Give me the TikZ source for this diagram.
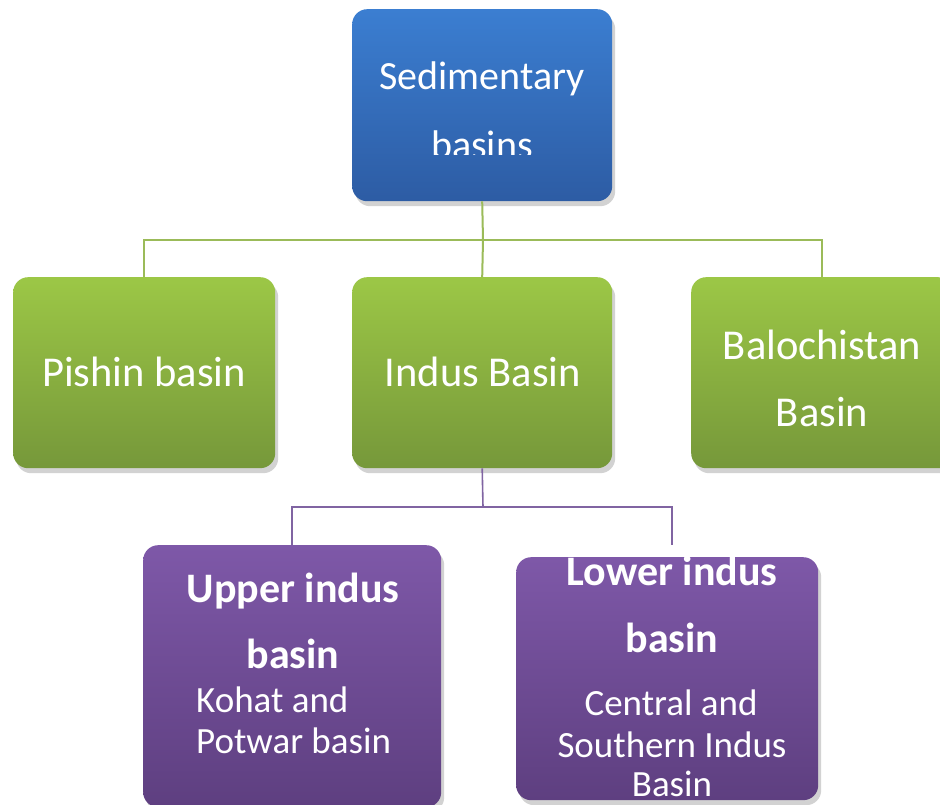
\documentclass[tikz,border=0pt]{standalone}
\usepackage{fontspec}
\setmainfont{Carlito}
\usetikzlibrary{shadows}
\definecolor{blueT}{HTML}{3B7ED1}
\definecolor{blueB}{HTML}{2D5CA4}
\definecolor{greenT}{HTML}{9CC746}
\definecolor{greenB}{HTML}{76983A}
\definecolor{purpT}{HTML}{7E58A8}
\definecolor{purpB}{HTML}{5E3F80}
\definecolor{gline}{HTML}{9BBB59}
\definecolor{pline}{HTML}{8064A2}
\tikzset{
  box/.style={rounded corners=15pt, inner sep=0pt, draw=none, anchor=north west,
    drop shadow={opacity=0.35, shadow xshift=3pt, shadow yshift=-5pt}},
  bluebox/.style={box, top color=blueT, bottom color=blueB},
  greenbox/.style={box, top color=greenT, bottom color=greenB},
  purpbox/.style={box, top color=purpT, bottom color=purpB},
  glink/.style={draw=gline, line width=2pt},
  plink/.style={draw=pline, line width=1.6pt},
  toptxt/.style={text=white, anchor=base, inner sep=0pt, font=\fontsize{40}{48}\selectfont},
  bigtxt/.style={text=white, anchor=base, inner sep=0pt, font=\fontsize{42.5}{50}\selectfont},
  boldtxt/.style={text=white, anchor=base, inner sep=0pt, font=\fontsize{42}{50}\selectfont\bfseries},
  smalltxt/.style={text=white, anchor=base, inner sep=0pt, font=\fontsize{37}{44}\selectfont}
}
\begin{document}
\begin{tikzpicture}[x=1pt,y=-1pt]
\useasboundingbox (0,0) rectangle (940,805);
\clip (0,0) rectangle (940,805);
\fill[white] (0,0) rectangle (940,805);

% boxes
\node[bluebox, minimum width=260pt, minimum height=192pt] (top) at (352,9) {};
\node[greenbox, minimum width=262pt, minimum height=191pt] (pishin) at (13,277) {};
\node[greenbox, minimum width=260pt, minimum height=191pt] (indus) at (352,277) {};
\node[greenbox, minimum width=262pt, minimum height=191pt] (baloch) at (691,277) {};
\node[purpbox, minimum width=298pt, minimum height=262pt] (upper) at (143,545) {};
\node[purpbox, minimum width=302pt, minimum height=243pt] (lower) at (516,557) {};

% connectors
\coordinate (gbus) at (483,240);
\coordinate (pbus) at (483,507);
\coordinate (lowtop) at (672,545);
\draw[glink] (top.south) -- (gbus);
\draw[glink] (pishin.north) |- (gbus) -| (baloch.north);
\draw[glink] (gbus) -- (indus.north);
\draw[plink] (indus.south) -- (pbus);
\draw[plink] (upper.north) |- (pbus) -| (lowtop);

% texts
\node[toptxt] (sed1) at (482,90) {Sedimentary};
\begin{scope}
\clip (352,9) rectangle (612,155);
\node[toptxt] (sed2) at (482,159) {basins};
\end{scope}
\node[bigtxt] (pishtxt) at (144,386) {Pishin basin};
\node[bigtxt] (indtxt) at (483,386) {Indus Basin};
\node[bigtxt] (bal1) at (822,359) {Balochistan};
\node[bigtxt] (bal2) at (822,426) {Basin};

\node[boldtxt] (up1) at (293,602) {Upper indus};
\node[boldtxt] (up2) at (293,668) {basin};
\node[smalltxt, anchor=base west] (up3) at (196,712) {Kohat and};
\node[smalltxt, anchor=base west] (up4) at (196,753) {Potwar basin};

\node[boldtxt] (lo1) at (672,585) {Lower indus};
\node[boldtxt] (lo2) at (672,652) {basin};
\node[smalltxt] (lo3) at (671,715) {Central and};
\node[smalltxt] (lo4) at (672,757) {Southern Indus};
\node[smalltxt] (lo5) at (672,796) {Basin};
\end{tikzpicture}
\end{document}
